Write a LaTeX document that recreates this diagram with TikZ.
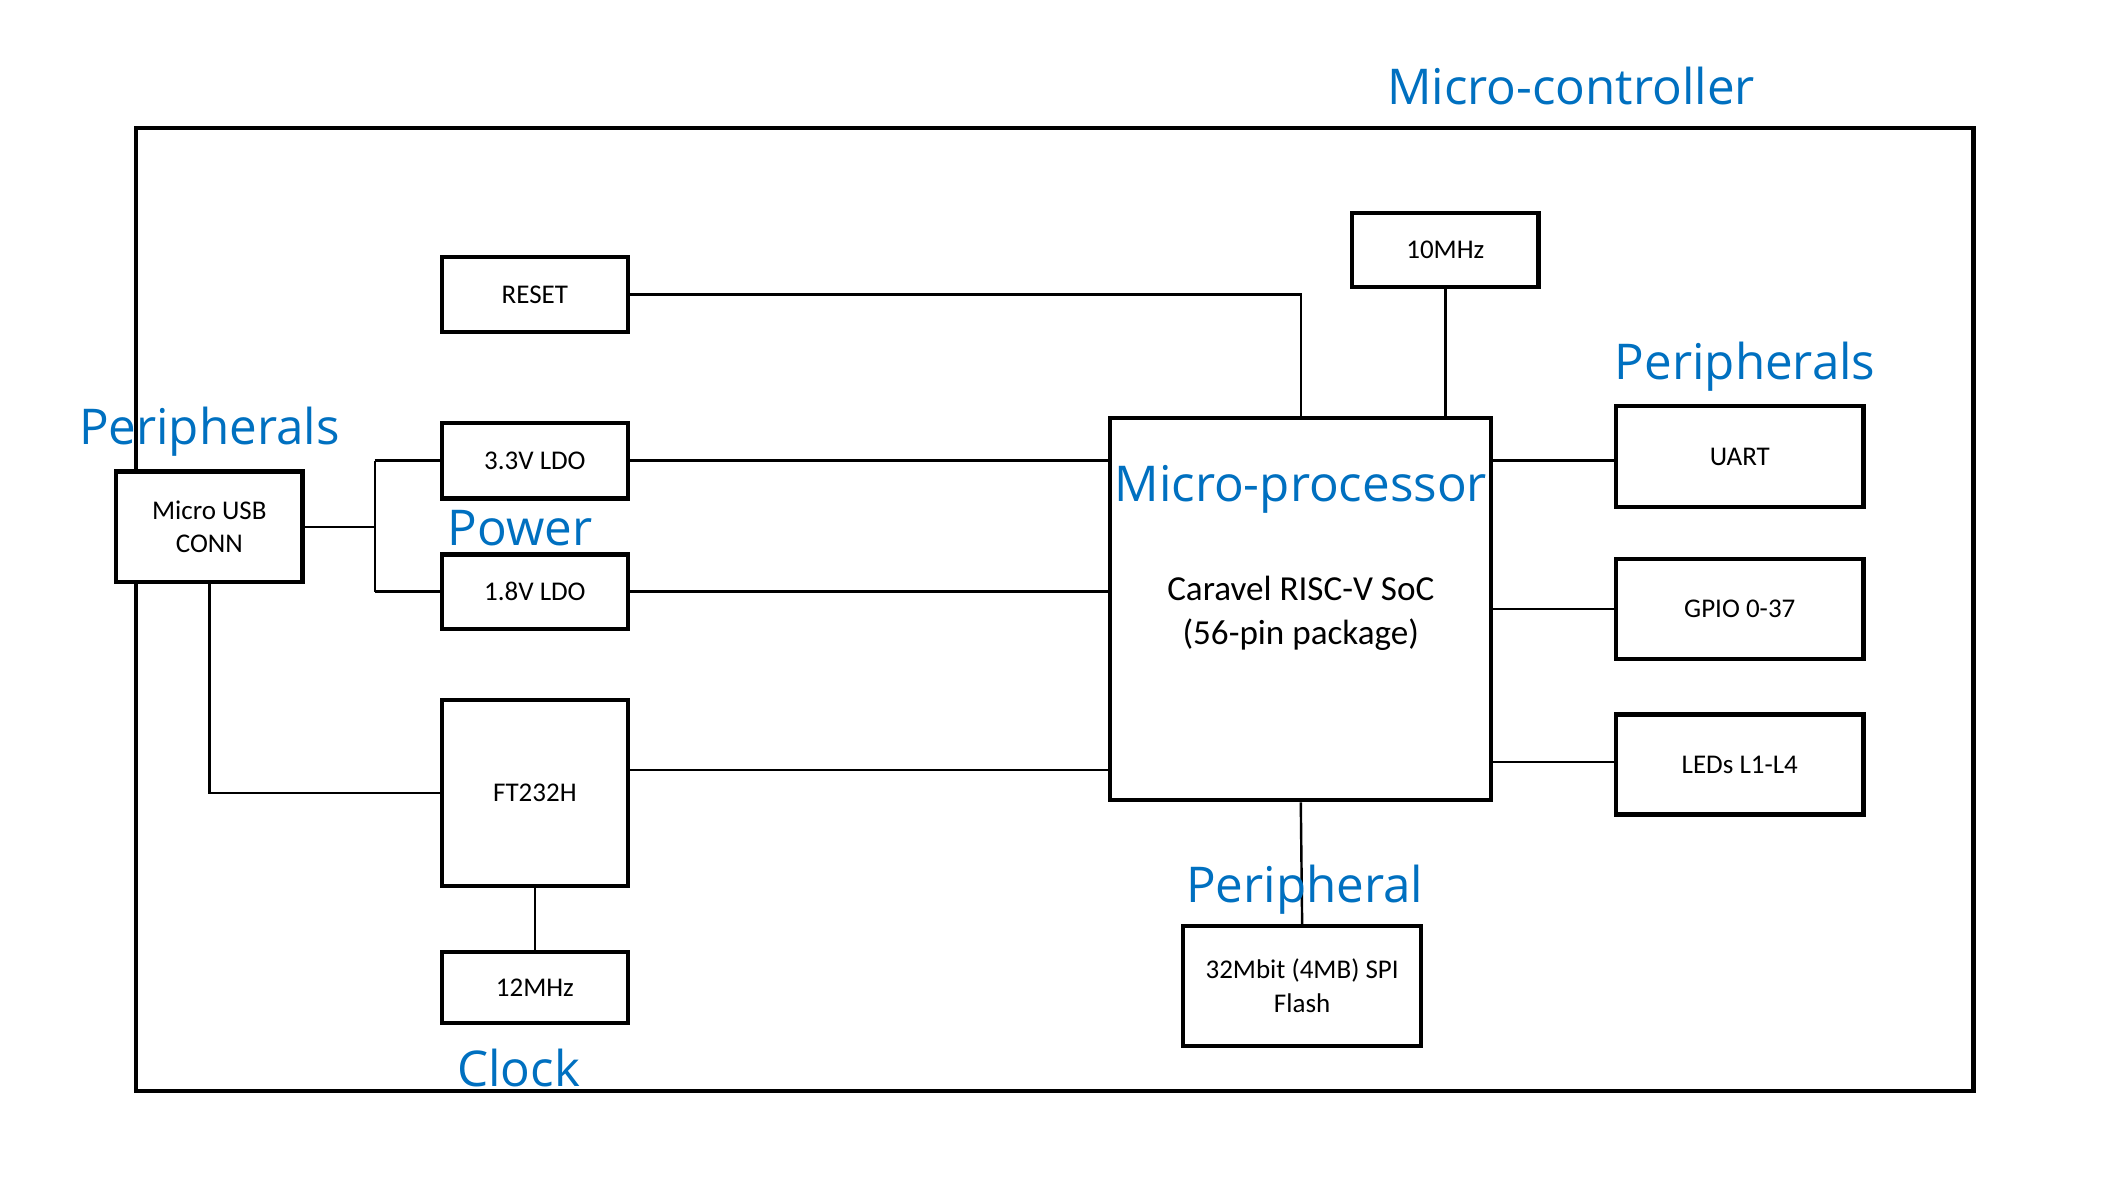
\documentclass[tikz,border=0pt]{standalone}
\usepackage{fontspec}
\usepackage{tikz}
\newfontfamily\boxfont{Carlito}
\newfontfamily\tagfont{Open Sans}
\definecolor{tagblue}{RGB}{0,112,192}

\begin{document}
\begin{tikzpicture}[x=1pt,y=-1pt,
	blk/.style={draw,line width=3.1pt,fill=white,inner sep=0pt,align=center,
		font=\boxfont\fontsize{20}{25}\selectfont},
	tag/.style={text=tagblue,anchor=base,inner sep=0pt,
		font=\tagfont\fontsize{36.5}{40}\selectfont},
	wire/.style={line width=1.8pt}]
\useasboundingbox (0,0) rectangle (1568,877);
\draw[line width=3pt] (101,95) rectangle (1461,808);

% left column
\node[blk,minimum width=138pt,minimum height=82pt] (usb) at (155,390) {Micro USB\\CONN};
\node[blk,minimum width=138pt,minimum height=56pt] (reset) at (396,218) {RESET};
\node[blk,minimum width=138pt,minimum height=56pt] (ldo33) at (396,341) {3.3V LDO};
\node[blk,minimum width=138pt,minimum height=55pt] (ldo18) at (396,438) {1.8V LDO};
\node[blk,minimum width=138pt,minimum height=138pt] (ft) at (396,587) {FT232H};
\node[blk,minimum width=138pt,minimum height=53pt] (xtal12) at (396,731) {12MHz};

% processor and clock
\node[blk,minimum width=282pt,minimum height=283pt] (soc) at (963,451) {};
\node[font=\boxfont\fontsize{26}{32}\selectfont,align=center] (socname) at (963,454) {Caravel RISC-V SoC\\(56-pin package)};
\node[blk,minimum width=138pt,minimum height=55pt] (xtal10) at (1070,185) {10MHz};
\node[blk,minimum width=176pt,minimum height=89pt] (flash) at (964,730) {32Mbit (4MB) SPI\\Flash};

% right column
\node[blk,minimum width=183pt,minimum height=75pt] (uart) at (1288,338) {UART};
\node[blk,minimum width=183pt,minimum height=74pt] (gpio) at (1288,451) {GPIO 0-37};
\node[blk,minimum width=183pt,minimum height=74pt] (leds) at (1288,566) {LEDs L1-L4};

% connections
\draw[wire] (reset.east) -| (soc.north);
\draw[wire] (xtal10.south) -- (xtal10.south |- soc.north);
\draw[wire] (ldo33.east) -- (ldo33.east -| soc.west);
\draw[wire] (ldo18.east) -- (ldo18.east -| soc.west);
\coordinate (ftout) at ([yshift=17pt]ft.east);
\draw[wire] (ftout) -- (ftout -| soc.west);
\coordinate (split) at ([xshift=52pt]usb.east);
\draw[wire] (usb.east) -- (split);
\draw[wire] (split |- ldo33.west) -- (split |- ldo18.west);
\draw[wire] (split |- ldo33.west) -- (ldo33.west);
\draw[wire] (split |- ldo18.west) -- (ldo18.west);
\draw[wire] (usb.south) |- (ft.west);
\draw[wire] (ft.south) -- (xtal12.north);
\coordinate (uartin) at ([yshift=-3pt]uart.west);
\coordinate (ledsin) at ([yshift=2pt]leds.west);
\draw[wire] (uartin -| soc.east) -- (uartin);
\draw[wire] (gpio.west -| soc.east) -- (gpio.west);
\draw[wire] (ledsin -| soc.east) -- (ledsin);
\draw[wire] (soc.south) -- (flash.north);

% group labels
\node[tag] (tmcu) at (1163,77) {Micro-controller};
\node[tag] (tperl) at (155,329) {Peripherals};
\node[tag] (tpower) at (385,404) {Power};
\node[tag] (tclock) at (384,804) {Clock};
\node[tag] (tcpu) at (963,371) {Micro-processor};
\node[tag] (tperr) at (1292,281) {Peripherals};
\node[tag] (tflash) at (966,668) {Peripheral};
\end{tikzpicture}
\end{document}
